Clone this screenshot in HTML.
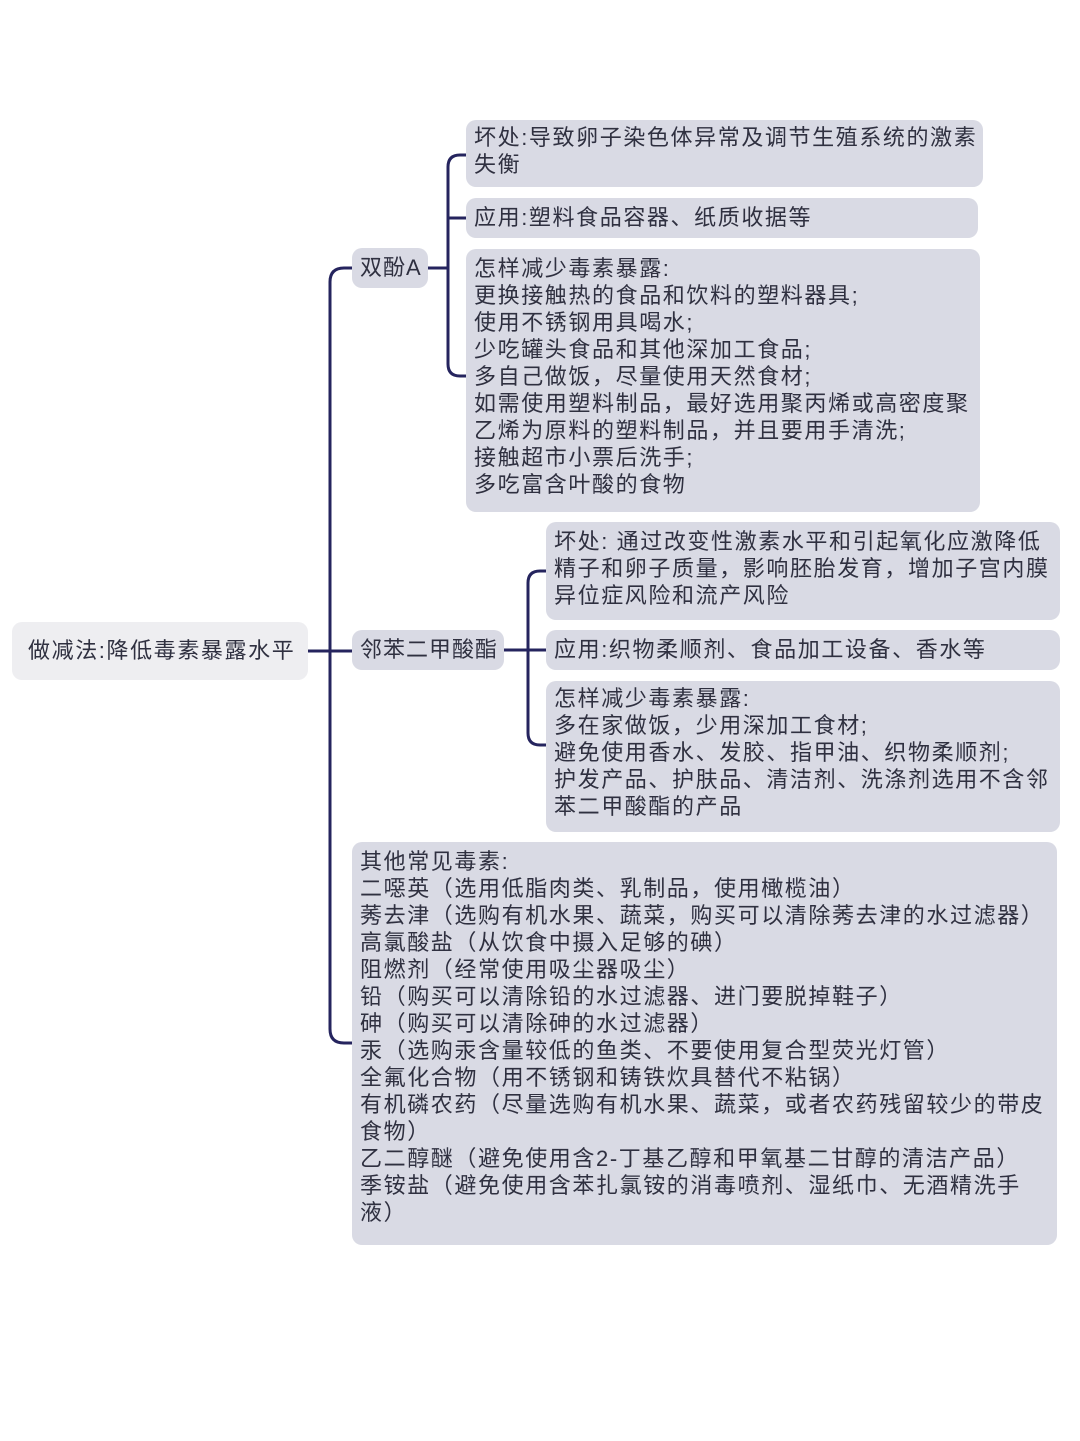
<!DOCTYPE html>
<html><head><meta charset="utf-8">
<style>
body{margin:0;width:1080px;height:1441px;background:#fff;position:relative;overflow:hidden;font-family:"Liberation Sans","Noto Sans CJK SC",sans-serif;color:#2f3040}
.b{position:absolute;background:#d9dae4;border-radius:10px;font-size:22px;line-height:27px;letter-spacing:1.6px;padding:4px 0 0 8px;box-sizing:border-box;white-space:nowrap}
.root{background:#eeeef1;font-size:22px;line-height:58px;padding:0 0 0 16px}
svg{position:absolute;left:0;top:0}
</style></head><body>
<svg width="1080" height="1441" fill="none" stroke="#25245e" stroke-width="3">
<path d="M308 651 H330"/>
<path d="M352 268 H344 Q330 268 330 282 V1029 Q330 1043 344 1043 H352"/>
<path d="M330 651 H352"/>
<path d="M428 268 H448"/>
<path d="M466 155 H460 Q448 155 448 167 V364 Q448 376 460 376 H466"/>
<path d="M448 218 H466"/>
<path d="M504 650 H528"/>
<path d="M546 571 H540 Q528 571 528 583 V733 Q528 745 540 745 H546"/>
<path d="M528 650 H546"/>
</svg>
<div class="b root" style="left:12px;top:622px;width:296px;height:58px">做减法:降低毒素暴露水平</div>
<div class="b" style="left:352px;top:248px;width:76px;height:40px;padding-top:6px;letter-spacing:1px">双酚A</div>
<div class="b" style="left:466px;top:120px;width:517px;height:67px">坏处:导致卵子染色体异常及调节生殖系统的激素<br>失衡</div>
<div class="b" style="left:466px;top:198px;width:512px;height:40px;padding-top:6px">应用:塑料食品容器、纸质收据等</div>
<div class="b" style="left:466px;top:249px;width:514px;height:263px;padding-top:6px">怎样减少毒素暴露:<br>更换接触热的食品和饮料的塑料器具;<br>使用不锈钢用具喝水;<br>少吃罐头食品和其他深加工食品;<br>多自己做饭，尽量使用天然食材;<br>如需使用塑料制品，最好选用聚丙烯或高密度聚<br>乙烯为原料的塑料制品，并且要用手清洗;<br>接触超市小票后洗手;<br>多吃富含叶酸的食物</div>
<div class="b" style="left:352px;top:630px;width:152px;height:40px;padding-top:6px;letter-spacing:1px">邻苯二甲酸酯</div>
<div class="b" style="left:546px;top:522px;width:514px;height:98px;padding-top:6px">坏处: 通过改变性激素水平和引起氧化应激降低<br>精子和卵子质量，影响胚胎发育，增加子宫内膜<br>异位症风险和流产风险</div>
<div class="b" style="left:546px;top:630px;width:514px;height:40px;padding-top:6px">应用:织物柔顺剂、食品加工设备、香水等</div>
<div class="b" style="left:546px;top:681px;width:514px;height:151px;padding-top:4px">怎样减少毒素暴露:<br>多在家做饭，少用深加工食材;<br>避免使用香水、发胶、指甲油、织物柔顺剂;<br>护发产品、护肤品、清洁剂、洗涤剂选用不含邻<br>苯二甲酸酯的产品</div>
<div class="b" style="left:352px;top:842px;width:705px;height:403px;padding-top:6px">其他常见毒素:<br>二噁英（选用低脂肉类、乳制品，使用橄榄油）<br>莠去津（选购有机水果、蔬菜，购买可以清除莠去津的水过滤器）<br>高氯酸盐（从饮食中摄入足够的碘）<br>阻燃剂（经常使用吸尘器吸尘）<br>铅（购买可以清除铅的水过滤器、进门要脱掉鞋子）<br>砷（购买可以清除砷的水过滤器）<br>汞（选购汞含量较低的鱼类、不要使用复合型荧光灯管）<br>全氟化合物（用不锈钢和铸铁炊具替代不粘锅）<br>有机磷农药（尽量选购有机水果、蔬菜，或者农药残留较少的带皮<br>食物）<br>乙二醇醚（避免使用含2-丁基乙醇和甲氧基二甘醇的清洁产品）<br>季铵盐（避免使用含苯扎氯铵的消毒喷剂、湿纸巾、无酒精洗手<br>液）</div>
</body></html>
